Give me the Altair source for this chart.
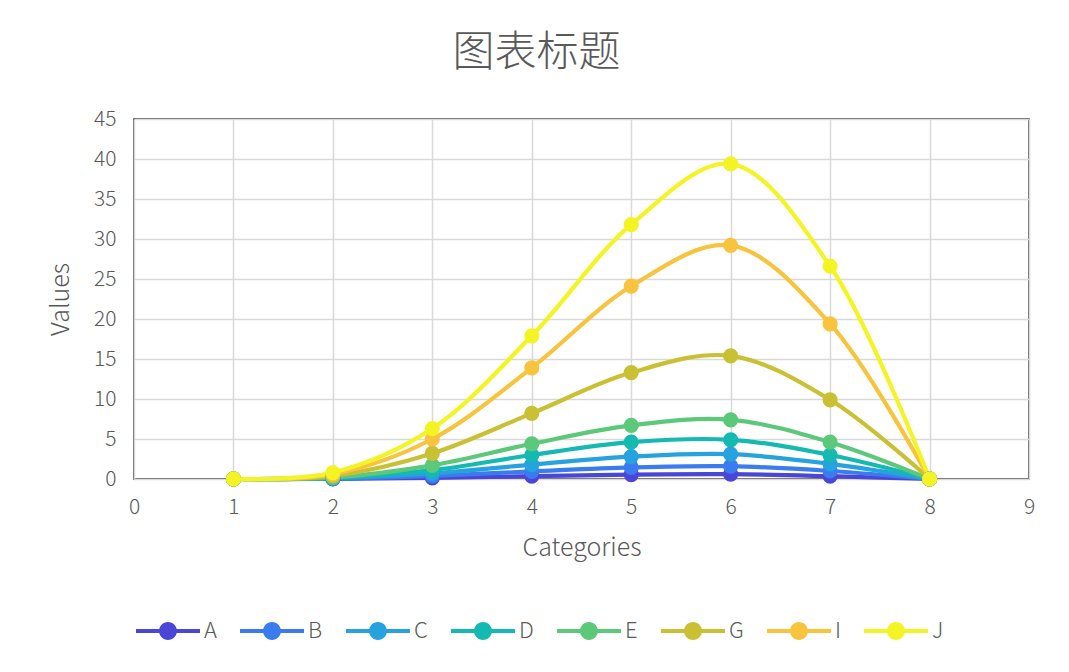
import altair as alt
import pandas as pd

categories = [1, 2, 3, 4, 5, 6, 7, 8]
series_names = ["A", "B", "C", "D", "E", "G", "I", "J"]
A = [0, 0.02, 0.15, 0.35, 0.55, 0.6, 0.35, 0]
B = [0, 0.05, 0.4, 0.95, 1.45, 1.6, 1.0, 0]
C = [0, 0.1, 0.7, 1.8, 2.8, 3.1, 1.9, 0]
D = [0, 0.15, 1.1, 3.0, 4.6, 4.9, 3.0, 0]
E = [0, 0.2, 1.7, 4.4, 6.7, 7.4, 4.6, 0]
G = [0, 0.4, 3.2, 8.2, 13.3, 15.4, 9.9, 0]
I = [0, 0.6, 5.0, 13.9, 24.1, 29.2, 19.4, 0]
J = [0, 0.8, 6.3, 17.9, 31.8, 39.4, 26.6, 0]
colors = ["#4a46d8", "#3a7cf0", "#26a2de", "#14b9b2", "#5cc97a", "#c9c033", "#f8c43e", "#f4f424"]
x_ticks = [0, 1, 2, 3, 4, 5, 6, 7, 8, 9]
y_ticks = [0, 5, 10, 15, 20, 25, 30, 35, 40, 45]

values = [A, B, C, D, E, G, I, J]
rows = []
for i, (name, vals) in enumerate(zip(series_names, values)):
    for c, v in zip(categories, vals):
        rows.append({"Category": c, "Value": v, "Series": name, "ord": i})
df = pd.DataFrame(rows)

FONT = "Noto Sans CJK SC"
GRAY = "#595959"

sym = ("M-1,-0.065L1,-0.065L1,0.065L-1,0.065Z "
       "M0.28,0A0.28,0.28,0,1,1,-0.28,0A0.28,0.28,0,1,1,0.28,0Z")

color = alt.Color(
    "Series:N",
    scale=alt.Scale(domain=series_names, range=colors),
    legend=alt.Legend(
        title=None, orient="none", direction="horizontal", columns=8,
        legendX=2, legendY=480,
        symbolType=sym, symbolSize=4096, symbolStrokeWidth=0,
        labelFontSize=22, labelColor=GRAY, labelFont=FONT, labelFontWeight=300,
        labelOffset=4, columnPadding=23,
    ),
)

x = alt.X("Category:Q", scale=alt.Scale(domain=[0, 9], nice=False),
          axis=alt.Axis(values=x_ticks, title="Categories", format="d",
                        labelOverlap=False, labelFlush=False, labelBound=False))
y = alt.Y("Value:Q", scale=alt.Scale(domain=[0, 45], nice=False),
          axis=alt.Axis(values=y_ticks, title="Values", labelOverlap=False,
                        labelFlush=False, labelBound=False))

lines = alt.Chart(df).mark_line(interpolate="catmull-rom", strokeWidth=4.2).encode(
    x=x, y=y, color=color, order=alt.Order("Category:Q"), detail="Series:N"
)
points = alt.Chart(df).mark_point(filled=True, size=230, opacity=1).encode(
    x=x, y=y, color=color
)

chart = alt.layer(lines, points).properties(
    width=895, height=360,
    autosize=alt.AutoSizeParams(type="none"),
    padding={"left": 126, "top": 111, "right": 32, "bottom": 185},
    title=alt.TitleParams("图表标题", fontSize=42, font=FONT, color=GRAY,
                          fontWeight=300, dx=-45, offset=33),
).configure_view(
    stroke="#2b2b2b", strokeWidth=1.5
).configure_axis(
    domain=False, ticks=False, grid=True, gridColor="#d9d9d9", gridWidth=1.5,
    labelFont=FONT, labelFontSize=21, labelColor=GRAY, labelFontWeight=300,
    titleFont=FONT, titleFontSize=25, titleColor=GRAY, titleFontWeight=300,
).configure_axisY(
    labelPadding=18, titlePadding=20
).configure_axisX(
    labelPadding=17, titlePadding=18
)

chart.save("out.html", embed_options={"renderer": "svg", "actions": False})
